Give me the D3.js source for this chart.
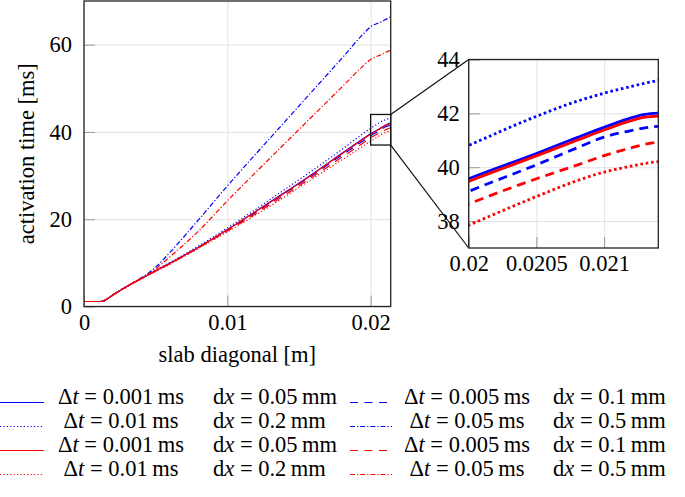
<!DOCTYPE html>
<html>
<head>
<meta charset="utf-8">
<script src="https://cdn.jsdelivr.net/npm/d3@7"></script>
<style>
  body { margin: 0; background: #fff; }
  text { font-family: "Liberation Serif", "Times New Roman", serif; fill: #000; }
</style>
</head>
<body>
<div id="grafico"></div>
<script>
// dados (eixo x = diagonal da placa em m)
const slab = [0, 0.001, 0.0013, 0.0016, 0.002, 0.003, 0.004, 0.0045, 0.005, 0.006, 0.008, 0.01,
  0.012, 0.014, 0.016, 0.018, 0.0195, 0.02, 0.0205, 0.0208, 0.021, 0.0212, 0.0213, 0.0214];

const blueSolid = [1.15, 1.15, 1.2, 1.7, 2.6, 4.6, 6.4, 7.3, 8.2, 9.9, 13.6, 17.6,
  21.8, 26.1, 30.5, 35.1, 38.5, 39.57, 40.51, 41.1, 41.48, 41.83, 41.96, 42.01];
const blueDashed = [1.15, 1.15, 1.2, 1.7, 2.6, 4.6, 6.4, 7.3, 8.2, 9.9, 13.6, 17.5,
  21.6, 25.9, 30.2, 34.7, 38.0, 39.1, 40.09, 40.72, 41.12, 41.36, 41.46, 41.52];
const blueDotted = [1.15, 1.15, 1.2, 1.7, 2.7, 4.7, 6.5, 7.4, 8.3, 10.1, 13.9, 18.0,
  22.3, 26.8, 31.3, 36.0, 39.7, 40.81, 41.89, 42.45, 42.75, 43.0, 43.12, 43.22];
const blueDashDot = [1.15, 1.15, 1.2, 1.7, 2.6, 4.6, 6.6, 7.7, 9.0, 12.4, 19.9, 27.6,
  35.0, 42.3, 49.6, 56.9, 62.5, 64.1, 64.9, 65.3, 65.7, 66.0, 66.2, 66.35];
const redSolid = [1.15, 1.15, 1.2, 1.7, 2.6, 4.6, 6.4, 7.3, 8.2, 9.9, 13.6, 17.6,
  21.8, 26.0, 30.4, 35.0, 38.4, 39.47, 40.42, 41.0, 41.38, 41.73, 41.86, 41.9];
const redDashed = [1.15, 1.15, 1.2, 1.7, 2.6, 4.6, 6.4, 7.3, 8.1, 9.8, 13.5, 17.3,
  21.3, 25.5, 29.8, 34.2, 37.5, 38.63, 39.57, 40.08, 40.43, 40.72, 40.85, 40.93];
const redDotted = [1.15, 1.15, 1.2, 1.7, 2.6, 4.5, 6.3, 7.2, 8.0, 9.7, 13.3, 17.1,
  21.0, 25.1, 29.4, 33.6, 36.8, 37.85, 38.91, 39.5, 39.82, 40.04, 40.14, 40.21];
const redDashDot = [1.15, 1.15, 1.2, 1.7, 2.6, 4.6, 6.5, 7.4, 8.6, 11.4, 17.3, 24.2,
  30.8, 37.3, 43.8, 50.3, 55.2, 56.6, 57.4, 57.8, 58.2, 58.45, 58.6, 58.7];

const dtLabels = ["0.001", "0.005", "0.01", "0.05", "0.001", "0.005", "0.01", "0.05"];
const dxLabels = ["0.05", "0.1", "0.2", "0.5", "0.05", "0.1", "0.2", "0.5"];

const xTicks = [0, 0.01, 0.02];
const yTicks = [0, 20, 40, 60];
const xTicksZoom = [0.02, 0.0205, 0.021];
const yTicksZoom = [38, 40, 42, 44];

// ordem de desenho (igual à legenda)
const series = [
  { y: blueSolid, color: "#0000ff", style: "solid" },
  { y: blueDashed, color: "#0000ff", style: "dashed" },
  { y: blueDotted, color: "#0000ff", style: "dotted" },
  { y: blueDashDot, color: "#0000ff", style: "dashdot" },
  { y: redSolid, color: "#ff0000", style: "solid" },
  { y: redDashed, color: "#ff0000", style: "dashed" },
  { y: redDotted, color: "#ff0000", style: "dotted" },
  { y: redDashDot, color: "#ff0000", style: "dashdot" }
];

const dashMain = { solid: null, dashed: "8,6.5", dotted: "1.2,2.2", dashdot: "5,2,1.2,2" };
const dashZoom = { solid: null, dashed: "9,6", dotted: "2.6,2.8", dashdot: "9,3,2,3" };

const W = 685, H = 497;
const svg = d3.select("#grafico").append("svg")
  .attr("width", W).attr("height", H);

const FS = 22.5;

// ---------- gráfico principal ----------
const m = { left: 84, right: 390.7, top: 1, bottom: 306.5 };
const x = d3.scaleLinear().domain([0, 0.0214]).range([m.left, m.right]);
const y = d3.scaleLinear().domain([0, 70]).range([m.bottom, m.top]);

// grade
svg.append("g")
  .attr("transform", "translate(0," + m.bottom + ")")
  .call(d3.axisBottom(x).tickValues(xTicks).tickSize(-(m.bottom - m.top)).tickFormat(""))
  .call(g => g.select(".domain").remove())
  .selectAll("line").attr("stroke", "#e2e2e2").attr("stroke-width", 1);
svg.append("g")
  .attr("transform", "translate(" + m.left + ",0)")
  .call(d3.axisLeft(y).tickValues(yTicks).tickSize(-(m.right - m.left)).tickFormat(""))
  .call(g => g.select(".domain").remove())
  .selectAll("line").attr("stroke", "#e2e2e2").attr("stroke-width", 1);

// marcas + rótulos
const fmt = d3.format("~g");
svg.append("g")
  .attr("transform", "translate(0," + m.bottom + ")")
  .call(d3.axisBottom(x).tickValues(xTicks).tickSize(-11).tickPadding(8).tickFormat(fmt))
  .call(g => g.select(".domain").remove())
  .call(g => g.selectAll("line").attr("stroke", "#999"))
  .call(g => g.selectAll("text").attr("font-size", FS).attr("font-family", null).attr("fill", "#000"));
svg.append("g")
  .attr("transform", "translate(" + m.left + ",0)")
  .call(d3.axisLeft(y).tickValues(yTicks).tickSize(-11).tickPadding(12).tickFormat(fmt))
  .call(g => g.select(".domain").remove())
  .call(g => g.selectAll("line").attr("stroke", "#999"))
  .call(g => g.selectAll("text").attr("font-size", FS).attr("font-family", null).attr("fill", "#000"));

svg.append("clipPath").attr("id", "clipMain").append("rect")
  .attr("x", m.left).attr("y", m.top).attr("width", m.right - m.left).attr("height", m.bottom - m.top);

const lineMain = d3.line()
  .x((d, i) => x(slab[i]))
  .y(d => y(d))
  .curve(d3.curveMonotoneX);

svg.append("g").attr("clip-path", "url(#clipMain)")
  .selectAll("path")
  .data(series)
  .enter()
  .append("path")
    .attr("d", s => lineMain(s.y))
    .attr("fill", "none")
    .attr("stroke", s => s.color)
    .attr("stroke-width", 1.2)
    .attr("stroke-dasharray", s => dashMain[s.style]);

svg.append("rect")
  .attr("x", m.left).attr("y", m.top)
  .attr("width", m.right - m.left).attr("height", m.bottom - m.top)
  .attr("fill", "none").attr("stroke", "#222").attr("stroke-width", 1.3);

svg.append("text")
  .attr("x", (m.left + m.right) / 2).attr("y", 362)
  .attr("text-anchor", "middle").attr("font-size", FS)
  .text("slab diagonal [m]");

svg.append("text")
  .attr("transform", "translate(33.5," + (m.top + m.bottom) / 2 + ") rotate(-90)")
  .attr("text-anchor", "middle").attr("font-size", FS)
  .text("activation time [ms]");

// ---------- zoom ----------
const z = { left: 468.7, right: 658.3, top: 59.5, bottom: 248 };
const xz = d3.scaleLinear().domain([0.02, 0.0214]).range([z.left, z.right]);
const yz = d3.scaleLinear().domain([37, 44]).range([z.bottom, z.top]);

// caixa no gráfico principal e linhas de ligação
const bx0 = x(xz.domain()[0]), bx1 = x(xz.domain()[1]);
const by0 = y(yz.domain()[1]), by1 = y(yz.domain()[0]);
svg.append("rect")
  .attr("x", bx0).attr("y", by0).attr("width", bx1 - bx0).attr("height", by1 - by0)
  .attr("fill", "none").attr("stroke", "#111").attr("stroke-width", 1.3);
svg.append("line")
  .attr("x1", bx1).attr("y1", by0).attr("x2", z.left).attr("y2", z.top)
  .attr("stroke", "#111").attr("stroke-width", 1.2);
svg.append("line")
  .attr("x1", bx1).attr("y1", by1).attr("x2", z.left).attr("y2", z.bottom)
  .attr("stroke", "#111").attr("stroke-width", 1.2);

svg.append("rect")
  .attr("x", z.left).attr("y", z.top).attr("width", z.right - z.left).attr("height", z.bottom - z.top)
  .attr("fill", "#fff");

svg.append("g")
  .attr("transform", "translate(0," + z.bottom + ")")
  .call(d3.axisBottom(xz).tickValues(xTicksZoom).tickSize(-(z.bottom - z.top)).tickFormat(""))
  .call(g => g.select(".domain").remove())
  .selectAll("line").attr("stroke", "#e2e2e2").attr("stroke-width", 1);
svg.append("g")
  .attr("transform", "translate(" + z.left + ",0)")
  .call(d3.axisLeft(yz).tickValues(yTicksZoom).tickSize(-(z.right - z.left)).tickFormat(""))
  .call(g => g.select(".domain").remove())
  .selectAll("line").attr("stroke", "#e2e2e2").attr("stroke-width", 1);

svg.append("g")
  .attr("transform", "translate(0," + z.bottom + ")")
  .call(d3.axisBottom(xz).tickValues(xTicksZoom).tickSize(-11).tickPadding(7.5).tickFormat(fmt))
  .call(g => g.select(".domain").remove())
  .call(g => g.selectAll("line").attr("stroke", "#999"))
  .call(g => g.selectAll("text").attr("font-size", FS).attr("font-family", null).attr("fill", "#000"));
svg.append("g")
  .attr("transform", "translate(" + z.left + ",0)")
  .call(d3.axisLeft(yz).tickValues(yTicksZoom).tickSize(-11).tickPadding(9).tickFormat(fmt))
  .call(g => g.select(".domain").remove())
  .call(g => g.selectAll("line").attr("stroke", "#999"))
  .call(g => g.selectAll("text").attr("font-size", FS).attr("font-family", null).attr("fill", "#000"));

svg.append("clipPath").attr("id", "clipZoom").append("rect")
  .attr("x", z.left).attr("y", z.top).attr("width", z.right - z.left).attr("height", z.bottom - z.top);

const lineZoom = d3.line()
  .x((d, i) => xz(slab[i]))
  .y(d => yz(d))
  .curve(d3.curveMonotoneX);

svg.append("g").attr("clip-path", "url(#clipZoom)")
  .selectAll("path")
  .data(series)
  .enter()
  .append("path")
    .attr("d", s => lineZoom(s.y))
    .attr("fill", "none")
    .attr("stroke", s => s.color)
    .attr("stroke-width", 2.8)
    .attr("stroke-dasharray", s => dashZoom[s.style]);

svg.append("rect")
  .attr("x", z.left).attr("y", z.top).attr("width", z.right - z.left).attr("height", z.bottom - z.top)
  .attr("fill", "none").attr("stroke", "#222").attr("stroke-width", 1.3);

// ---------- legenda ----------
const legCols = [
  { x0: 0, x1: 44, dtCenter: 121, dxLeft: 213 },
  { x0: 350, x1: 392, dtCenter: 467, dxLeft: 553 }
];
const legRow0 = 404, legStep = 24;

series.forEach((s, i) => {
  const c = legCols[i % 2];
  const by = legRow0 + Math.floor(i / 2) * legStep;
  svg.append("line")
    .attr("x1", c.x0).attr("x2", c.x1).attr("y1", by - 1.5).attr("y2", by - 1.5)
    .attr("stroke", s.color).attr("stroke-width", 1.2)
    .attr("stroke-dasharray", dashMain[s.style]);

  const t1 = svg.append("text").attr("x", c.dtCenter).attr("y", by)
    .attr("text-anchor", "middle").attr("font-size", FS);
  t1.append("tspan").text("\u0394");
  t1.append("tspan").attr("font-style", "italic").text("t");
  t1.append("tspan").text(" = " + dtLabels[i] + "\u2009ms");

  const t2 = svg.append("text").attr("x", c.dxLeft).attr("y", by).attr("font-size", FS);
  t2.append("tspan").text("d");
  t2.append("tspan").attr("font-style", "italic").text("x");
  t2.append("tspan").text(" = " + dxLabels[i] + "\u2009mm");
});
</script>
</body>
</html>
